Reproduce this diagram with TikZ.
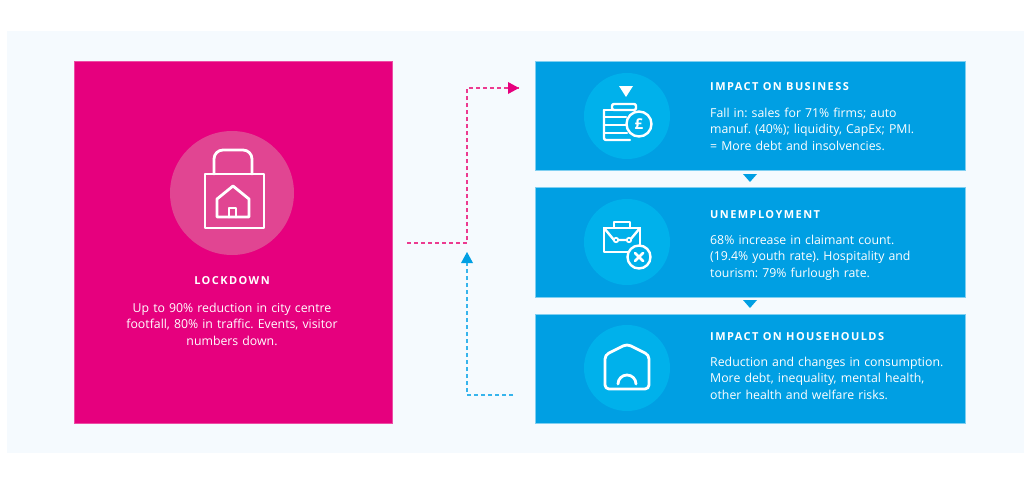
\documentclass[tikz,border=0pt]{standalone}
\usepackage{fontspec}
\setmainfont{Open Sans}
\newfontfamily\headfont[LetterSpace=13]{Open Sans Bold}
\usetikzlibrary{arrows.meta}
\definecolor{bgpanel}{HTML}{F5FAFE}
\definecolor{pinkbox}{HTML}{E6007E}
\definecolor{pinkcirc}{HTML}{E14592}
\definecolor{bluebox}{HTML}{009FE3}
\definecolor{bluecirc}{HTML}{00B1EB}
\definecolor{blueedge}{HTML}{7FCFF1}
\definecolor{pinkdash}{HTML}{EC3A90}
\definecolor{bluedash}{HTML}{36B4EC}
\tikzset{
  panel/.style={draw=blueedge, line width=0.8pt, fill=bluebox},
  headtxt/.style={text=white, font=\headfont\fontsize{11}{13}\selectfont, anchor=base west, inner sep=0pt},
  bodytxt/.style={text=white, font=\frenchspacing\fontsize{12.3}{16.5}\selectfont, anchor=base west, inner sep=0pt, text width=260pt, align=left},
  icon/.style={draw=white, line width=2.8pt, line join=round, line cap=round},
  connP/.style={draw=pinkdash, line width=1.1pt, dash pattern=on 4pt off 3pt},
  connB/.style={draw=bluedash, line width=1.1pt, dash pattern=on 4pt off 3pt},
}
\begin{document}
\begin{tikzpicture}[x=1pt,y=-1pt]
\useasboundingbox (0,0) rectangle (1024,477);
\fill[white] (0,0) rectangle (1024,477);
\fill[bgpanel] (7,31) rectangle (1024,453);
% left box
\node[draw=pinkbox!70!white, line width=0.8pt, fill=pinkbox, minimum width=318pt, minimum height=362pt, inner sep=0pt, anchor=north west] (lock) at (74,61) {};
\node[circle, fill=pinkcirc, minimum size=124pt, inner sep=0pt] (lockc) at (232,193) {};
% lock icon
\draw[icon, rounded corners=9pt] (214,174) -- (214,150) -- (252,150) -- (252,174);
\draw[icon] (205,174) rectangle (264,228);
\draw[icon] (217,217) -- (217,199) -- (233,186) -- (249,199) -- (249,217) -- cycle;
\draw[icon] (229,217) -- (229,208) -- (236,208) -- (236,217);
\node[text=white, font=\headfont\fontsize{11}{13}\selectfont, anchor=base, inner sep=0pt] (lockh) at (232,284) {LOCKDOWN};
\node[text=white, font=\frenchspacing\fontsize{12.3}{16.5}\selectfont, anchor=base, inner sep=0pt, text width=280pt, align=center] (lockb) at (232,312) {Up to 90\% reduction in city centre\\footfall, 80\% in traffic. Events, visitor\\numbers down.};
% right boxes
\node[panel, minimum width=430pt, minimum height=109pt, inner sep=0pt, anchor=north west] (b1) at (535,61) {};
\node[panel, minimum width=430pt, minimum height=110pt, inner sep=0pt, anchor=north west] (b2) at (535,187) {};
\node[panel, minimum width=430pt, minimum height=109pt, inner sep=0pt, anchor=north west] (b3) at (535,314) {};
\node[circle, fill=bluecirc, minimum size=86pt, inner sep=0pt] (c1) at (627,116) {};
\node[circle, fill=bluecirc, minimum size=86pt, inner sep=0pt] (c2) at (627,242) {};
\node[circle, fill=bluecirc, minimum size=86pt, inner sep=0pt] (c3) at (627,368) {};
% coins icon
\fill[white] (619,86) -- (633,86) -- (626,97) -- cycle;
\draw[icon, line width=2.4pt, rounded corners=2pt] (612,104) rectangle (636,110);
\draw[icon, line width=2.4pt, rounded corners=2pt] (604,110) -- (604,140) -- (630,140);
\draw[icon, line width=2.4pt] (604,110) -- (628,110);
\draw[icon, line width=2.4pt] (604,117) -- (626,117);
\draw[icon, line width=2.4pt] (604,125) -- (626,125);
\draw[icon, line width=2.4pt] (604,133) -- (627,133);
\draw[icon, line width=2.4pt, fill=bluecirc] (639,124) circle[radius=12.5];
\node[text=white, font=\bfseries\fontsize{15}{15}\selectfont, inner sep=0pt] (pound) at (639,124) {£};
% briefcase icon
\draw[icon, line width=2.4pt] (614,228) -- (614,222) -- (630,222) -- (630,228);
\draw[icon, line width=2.4pt] (604,228) rectangle (640,252);
\draw[icon, line width=2.4pt] (604,228) -- (614,240) -- (630,240) -- (640,228);
\draw[icon, line width=1.8pt, fill=bluecirc] (616,240) circle[radius=2.2];
\draw[icon, line width=1.8pt, fill=bluecirc] (629,240) circle[radius=2.2];
\draw[icon, line width=2.4pt, fill=bluecirc] (639,257) circle[radius=11.5];
\draw[icon, line width=2.8pt] (635,253) -- (643,261) (643,253) -- (635,261);
% sad house icon
\draw[icon, rounded corners=4pt] (605,389) -- (605,355) -- (627,344) -- (649,355) -- (649,389) -- cycle;
\draw[icon] (618,384) arc[start angle=180,end angle=360,radius=9];
% texts
\node[headtxt] (h1) at (710,90) {IMPACT ON BUSINESS};
\node[bodytxt] (t1) at (710,117) {Fall in: sales for 71\% firms; auto\\manuf. (40\%); liquidity, CapEx; PMI.\\= More debt and insolvencies.};
\node[headtxt] (h2) at (710,218) {UNEMPLOYMENT};
\node[bodytxt] (t2) at (710,244) {68\% increase in claimant count.\\(19.4\% youth rate). Hospitality and\\tourism: 79\% furlough rate.};
\node[headtxt] (h3) at (710,340) {IMPACT ON HOUSEHOULDS};
\node[bodytxt] (t3) at (710,366) {Reduction and changes in consumption.\\More debt, inequality, mental health,\\other health and welfare risks.};
% small triangles between boxes
\fill[bluebox] (743,174) -- (757,174) -- (750,182) -- cycle;
\fill[bluebox] (743,300) -- (757,300) -- (750,308) -- cycle;
% connectors
\coordinate (pstart) at (407,243);
\coordinate (pj) at (467,243);
\coordinate (ptop) at (467,88);
\coordinate (pend) at (519,88);
\draw[connP] (pstart) -- (pj) -- (ptop) -- (pend);
\fill[pinkbox] (pend) -- ++(-11,-6) -- ++(0,12) -- cycle;
\coordinate (bstart) at (513,395);
\coordinate (bj) at (467,395);
\coordinate (btip) at (467,252);
\draw[connB] (bstart) -- (bj) -- (467,262);
\fill[bluebox] (btip) -- ++(-6,11) -- ++(12,0) -- cycle;
\end{tikzpicture}
\end{document}
